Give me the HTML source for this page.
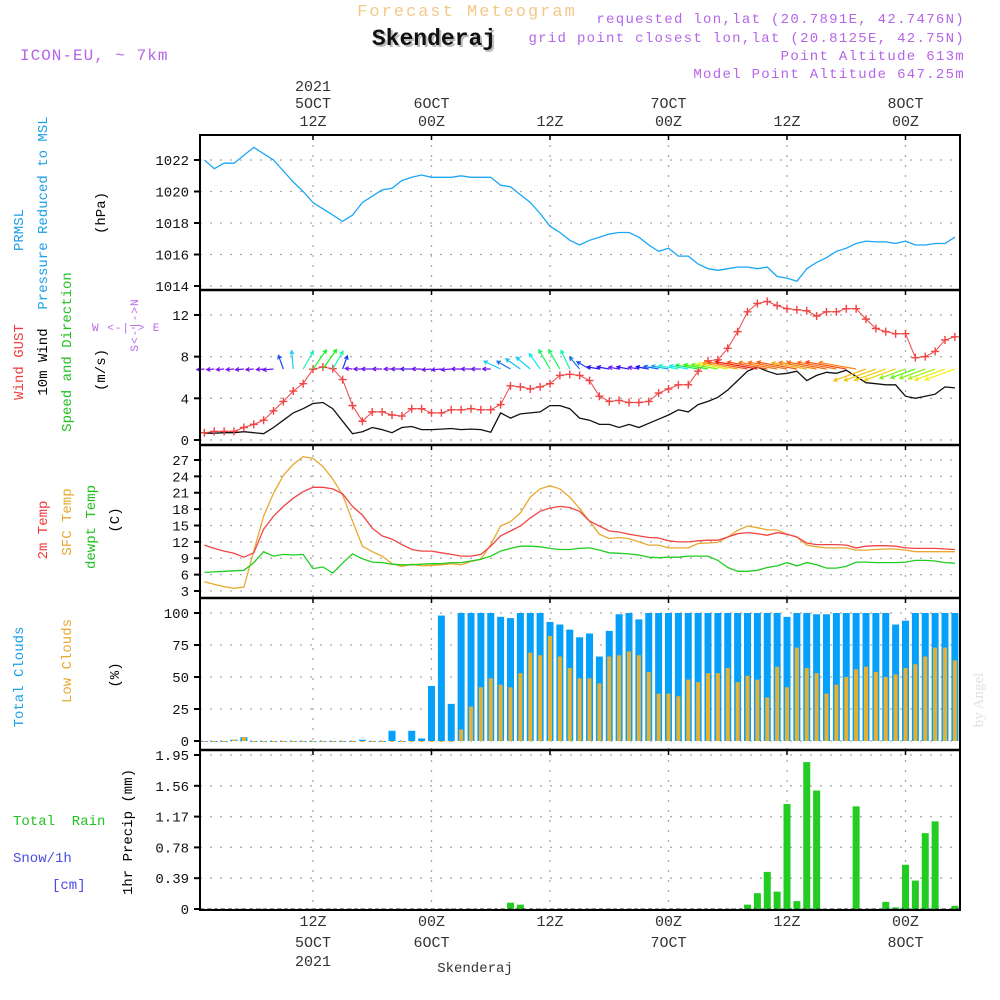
<!DOCTYPE html>
<html><head><meta charset="utf-8"><style>
body{margin:0;background:#fff;}
svg{display:block;font-family:"Liberation Mono",monospace;}
</style></head><body>
<svg id="chart" width="1000" height="1000" viewBox="0 0 1000 1000" xmlns="http://www.w3.org/2000/svg">
<rect x="0" y="0" width="1000" height="1000" fill="#fff"/>
<text x="467" y="16" text-anchor="middle" font-size="17" fill="#f3c98a" letter-spacing="2">Forecast Meteogram</text>
<text x="436" y="47" text-anchor="middle" font-size="23" font-weight="bold" fill="#bbb" font-family="Liberation Mono,monospace">Skenderaj</text>
<text x="434" y="45" text-anchor="middle" font-size="23" font-weight="bold" fill="#111" font-family="Liberation Mono,monospace">Skenderaj</text>
<text x="20" y="60" font-size="16" fill="#b565e8" letter-spacing="1">ICON-EU, ~ 7km</text>
<g fill="#b565e8" font-size="14" text-anchor="end" letter-spacing="1.3">
<text x="965" y="23">requested lon,lat (20.7891E, 42.7476N)</text>
<text x="965" y="42">grid point closest lon,lat (20.8125E, 42.75N)</text>
<text x="965" y="60">Point Altitude 613m</text>
<text x="965" y="78">Model Point Altitude 647.25m</text>
</g>
<g id="grid"></g>
<g id="marks"></g>
<g id="frame"></g>
<g id="labels" font-size="15" fill="#333" text-anchor="middle"></g>
<g font-size="14">
<text transform="translate(23,230) rotate(-90)" text-anchor="middle" fill="#1a9fe8">PRMSL</text>
<text transform="translate(47,213) rotate(-90)" text-anchor="middle" fill="#1a9fe8">Pressure Reduced to MSL</text>
<text transform="translate(105,213) rotate(-90)" text-anchor="middle" fill="#000">(hPa)</text>
<text transform="translate(23,362) rotate(-90)" text-anchor="middle" fill="#f03c3c">Wind GUST</text>
<text transform="translate(47,362) rotate(-90)" text-anchor="middle" fill="#000">10m Wind</text>
<text transform="translate(71,352) rotate(-90)" text-anchor="middle" fill="#22c022">Speed and Direction</text>
<text transform="translate(105,370) rotate(-90)" text-anchor="middle" fill="#000">(m/s)</text>
<text x="92" y="331" font-size="11" fill="#b565e8" letter-spacing="1">W &lt;-|-&gt; E</text>
<text transform="translate(138,325) rotate(-90)" text-anchor="middle" font-size="11" fill="#b565e8" letter-spacing="1">S&lt;-|-&gt;N</text>
<text transform="translate(47,530) rotate(-90)" text-anchor="middle" fill="#f03c3c">2m Temp</text>
<text transform="translate(71,522) rotate(-90)" text-anchor="middle" fill="#e8a830">SFC Temp</text>
<text transform="translate(95,527) rotate(-90)" text-anchor="middle" fill="#22c022">dewpt Temp</text>
<text transform="translate(119,520) rotate(-90)" text-anchor="middle" fill="#000">(C)</text>
<text transform="translate(23,677) rotate(-90)" text-anchor="middle" fill="#1a9fe8">Total Clouds</text>
<text transform="translate(71,661) rotate(-90)" text-anchor="middle" fill="#e8a830">Low Clouds</text>
<text transform="translate(119,675) rotate(-90)" text-anchor="middle" fill="#000">(%)</text>
<text x="13" y="825" fill="#22c022" xml:space="preserve">Total  Rain</text>
<text x="13" y="862" fill="#4a4ae8">Snow/1h</text>
<text x="52" y="889" fill="#4a4ae8">[cm]</text>
<text transform="translate(132,832) rotate(-90)" text-anchor="middle" fill="#000">1hr Precip (mm)</text>
<text transform="translate(983,700) rotate(-90)" text-anchor="middle" fill="#dde3dd" font-size="15" font-family="Liberation Serif,serif">by Angel</text>
<text x="475" y="972" text-anchor="middle" fill="#333" font-size="14">Skenderaj</text>
</g>
</svg>
<script>
const hours=[];for(let i=1;i<=77;i++)hours.push(i);
const pressure=[1022.0,1021.45,1021.8,1021.8,1022.3,1022.8,1022.4,1022.0,1021.3,1020.6,1020.0,1019.3,1018.9,1018.5,1018.1,1018.5,1019.3,1019.7,1020.1,1020.2,1020.7,1020.9,1021.05,1020.9,1020.9,1020.9,1021.0,1020.9,1020.9,1020.9,1020.4,1020.3,1019.8,1019.3,1018.6,1017.8,1017.4,1016.9,1016.6,1016.9,1017.1,1017.3,1017.4,1017.4,1017.1,1016.6,1016.2,1016.4,1015.9,1015.9,1015.4,1015.1,1015.0,1015.1,1015.2,1015.2,1015.1,1015.2,1014.6,1014.5,1014.3,1015.1,1015.5,1015.8,1016.2,1016.4,1016.7,1016.85,1016.8,1016.8,1016.7,1016.85,1016.6,1016.6,1016.7,1016.7,1017.1];
const gust=[0.7,0.83,0.83,0.83,1.2,1.5,1.9,2.8,3.7,4.7,5.4,6.8,7.0,6.85,5.8,3.3,1.8,2.7,2.7,2.4,2.3,3.0,3.0,2.6,2.6,2.9,2.9,3.0,2.9,2.9,3.4,5.2,5.1,4.9,5.1,5.4,6.2,6.3,6.2,5.7,4.2,3.7,3.8,3.6,3.6,3.7,4.5,4.9,5.3,5.3,6.6,7.6,7.7,8.8,10.4,12.3,13.1,13.3,12.9,12.6,12.5,12.4,11.9,12.3,12.3,12.6,12.6,11.6,10.7,10.4,10.2,10.2,7.9,8.0,8.5,9.6,9.9];
const wind=[0.65,0.65,0.7,0.7,0.8,0.7,0.6,1.2,1.9,2.6,3.0,3.5,3.6,3.0,1.8,0.6,0.8,1.2,1.0,0.7,1.2,1.3,1.0,1.0,1.05,1.1,1.0,1.05,1.0,0.75,2.6,2.1,2.5,2.6,2.7,3.3,3.3,3.0,2.1,1.9,1.5,1.5,1.2,1.5,1.2,1.6,2.0,2.4,2.9,2.7,3.4,3.7,4.1,4.8,5.7,6.6,7.0,6.6,6.3,6.4,6.6,5.7,6.2,6.5,6.4,6.7,6.1,5.5,5.4,5.3,5.3,4.2,4.0,4.2,4.4,5.1,5.0];
const windDir=[185,185,185,185,185,185,185,185,110,95,60,55,55,60,70,175,180,180,180,180,180,180,180,185,185,185,180,180,180,180,155,150,145,140,125,120,120,115,130,150,170,170,170,170,170,170,170,170,170,170,170,170,170,170,170,170,170,170,170,170,170,170,170,170,170,170,170,200,200,200,200,200,200,200,200,200,200];
const temp2m=[11.4,10.8,10.3,9.9,9.2,10.0,14.3,16.7,18.5,20.0,21.2,22.0,22.0,21.7,20.8,18.5,16.9,14.5,13.1,12.5,11.5,10.6,10.3,10.3,10.0,9.7,9.4,9.4,9.7,11.2,13.1,14.0,14.9,16.4,17.6,18.2,18.5,18.3,17.6,15.8,14.9,14.0,13.8,13.4,13.1,12.8,12.7,12.2,12.0,12.0,12.2,12.3,12.3,12.9,13.5,13.7,13.5,13.2,13.7,13.4,12.9,11.8,11.5,11.5,11.5,11.4,10.9,11.2,11.3,11.3,11.2,10.9,10.8,10.8,10.8,10.7,10.6];
const tempSfc=[4.7,4.2,3.8,3.5,3.7,10.3,16.7,20.9,24.2,26.2,27.6,27.3,25.8,23.5,20.6,15.8,11.2,10.2,9.4,8.0,7.5,7.9,7.6,7.7,7.8,8.0,7.8,8.4,8.8,11.5,14.9,15.7,17.3,20.2,21.7,22.3,21.7,20.2,18.1,15.8,13.4,12.6,12.8,12.6,12.0,11.4,11.4,10.9,10.9,10.9,11.7,11.8,11.9,12.9,14.1,14.9,14.6,14.2,14.2,13.4,12.9,11.4,11.1,10.9,10.9,10.9,10.5,10.5,10.6,10.7,10.7,10.5,10.2,10.2,10.2,10.2,10.2];
const dewpt=[6.4,6.5,6.6,6.7,6.8,8.2,10.2,9.4,9.7,9.6,9.7,7.1,7.4,6.3,8.1,9.8,8.9,8.3,8.2,7.9,7.8,7.8,7.9,8.0,8.0,8.2,8.2,8.5,8.8,9.4,10.3,10.8,11.2,11.2,11.1,10.8,10.6,10.6,10.8,10.9,10.5,10.0,9.9,9.8,9.6,9.2,9.1,9.2,9.2,9.4,9.4,9.4,8.6,7.3,6.6,6.6,6.8,7.3,7.6,8.2,7.6,8.2,7.8,7.2,7.2,7.5,8.3,8.3,8.2,8.2,8.2,8.3,8.6,8.6,8.5,8.2,8.1];
const totalClouds=[0,0,0,1,3,0,0,0,0,0,0,0,0,0,0,0,1,0,0,8,0,8,2,43,98,29,100,100,100,100,97,96,100,100,100,93,91,87,81,84,66,86,99,100,95,100,100,100,100,100,100,100,100,100,100,100,100,100,100,97,100,100,99,99,100,100,100,100,100,100,91,94,100,100,100,100,100];
const lowClouds=[0,0,0,1,3,0,0,0,0,0,0,0,0,0,0,0,0,0,0,0,0,0,0,0,0,0,9,27,42,49,44,42,53,69,67,82,66,57,49,49,45,66,67,70,67,54,37,37,35,48,46,53,53,57,46,51,48,34,58,42,73,57,53,37,44,50,56,58,54,50,52,57,60,66,73,73,63];
const precip=[0,0,0,0,0,0,0,0,0,0,0,0,0,0,0,0,0,0,0,0,0,0,0,0,0,0,0,0,0,0,0,0.08,0.055,0,0,0,0,0,0,0,0,0,0,0,0,0,0,0,0,0,0,0,0,0,0,0.055,0.2,0.47,0.22,1.33,0.1,1.86,1.5,0,0,0,1.3,0,0,0.09,0.02,0.56,0.36,0.96,1.11,0,0.04];
const pTicks=[1014,1016,1018,1020,1022];
const wTicks=[0,4,8,12];
const tTicks=[3,6,9,12,15,18,21,24,27];
const cTicks=[0,25,50,75,100];
const rTicks=[0,0.39,0.78,1.17,1.56,1.95];
const timeTicks=[12,24,36,48,60,72];
const topDay=["5OCT","6OCT","","7OCT","","8OCT"];
const topHour=["12Z","00Z","12Z","00Z","12Z","00Z"];

const NS="http://www.w3.org/2000/svg";
function mk(tag,attrs,parent){const e=document.createElementNS(NS,tag);for(const k in attrs)e.setAttribute(k,attrs[k]);parent.appendChild(e);return e;}
const X=h=>194.5+9.875*h;
const yP=v=>160+(1022-v)*15.75;
const yW=v=>440-v*10.42;
const yT=v=>460+(27-v)*5.458;
const yC=v=>741-v*1.28;
const yR=v=>909-v*(154/1.95);
const L=200,R=960;
const panels=[[135,290],[290,445],[445,598],[598,750],[750,910]];
const grid=document.getElementById('grid'),marks=document.getElementById('marks'),frame=document.getElementById('frame'),labels=document.getElementById('labels');

function yaxis(ticks,fn,fmt,name){ticks.forEach(t=>{const y=fn(t);
 const g=mk('line',{x1:L,x2:R,y1:y,y2:y,stroke:'#aaa','stroke-width':1.3,'stroke-dasharray':'2,8'},grid);
 
 
 const tk=mk('line',{x1:L-6,x2:L,y1:y,y2:y,stroke:'#000','stroke-width':2},frame);
 
 
 const tx=mk('text',{x:L-11,y:y+5,'text-anchor':'end','font-size':14,fill:'#111'},frame);
 
 
 tx.textContent=fmt(t);});}
yaxis(pTicks,yP,t=>t,'pressure');
yaxis(wTicks,yW,t=>t,'wind');
yaxis(tTicks,yT,t=>t,'temp');
yaxis(cTicks,yC,t=>t,'clouds');
yaxis(rTicks,yR,t=>t===0?'0':t.toFixed(2).replace(/0$/,''),'precip');
timeTicks.forEach((h,i)=>{const x=X(h);panels.forEach(p=>{
 const g=mk('line',{x1:x,x2:x,y1:p[0],y2:p[1],stroke:'#aaa','stroke-width':1.3,'stroke-dasharray':'2,8'},grid);
 
 
 const tk=mk('line',{x1:x,x2:x,y1:p[0],y2:p[0]+5,stroke:'#000','stroke-width':1.5},frame);
 
 });
 const a=mk('text',{x:x,y:126},labels);a.textContent=topHour[i];
 
 
 if(topDay[i]){const b=mk('text',{x:x,y:108},labels);b.textContent=topDay[i];
 
 }
 const c=mk('text',{x:x,y:926},labels);c.textContent=topHour[i];
 
 
 if(topDay[i]){const d=mk('text',{x:x,y:947},labels);d.textContent=topDay[i];
 
 }
});
const y1=mk('text',{x:X(12),y:91},labels);y1.textContent='2021';


const y2=mk('text',{x:X(12),y:966},labels);y2.textContent='2021';



hours.forEach((h,i)=>{const x=X(h);
 const b=mk('rect',{x:x-3.5,y:yC(totalClouds[i]),width:7,height:Math.max(741-yC(totalClouds[i]),1),fill:'#05a0fa'},marks);
 
 
 const o=mk('rect',{x:x-2,y:yC(lowClouds[i]),width:4,height:Math.max(741-yC(lowClouds[i]),1),fill:'#e8b030'},marks);
 
 
 if(precip[i]>0){const r=mk('rect',{x:x-3.5,y:yR(precip[i]),width:7,height:909-yR(precip[i]),fill:'#22cc22'},marks);
 
 }
});
const base=mk('line',{x1:L,x2:R,y1:909,y2:909,stroke:'#333','stroke-width':1,'stroke-dasharray':'4,3'},marks);



function line(arr,fn,color,name,w){const pts=hours.map((h,i)=>X(h).toFixed(1)+','+fn(arr[i]).toFixed(1)).join(' ');
 const p=mk('polyline',{points:pts,fill:'none',stroke:color,'stroke-width':w||1.3},marks);
 
 }
line(pressure,yP,'#1aa6f5','pressure-line');
line(wind,yW,'#111','wind-speed-line');
line(tempSfc,yT,'#e8a830','sfc-temp-line');
line(temp2m,yT,'#f04545','temp-2m-line');
line(dewpt,yT,'#22cc22','dewpt-line');
line(gust,yW,'#f04545','gust-line',1);
hours.forEach((h,i)=>{const x=X(h),y=yW(gust[i]);
 const c=mk('path',{d:`M${x-4},${y}h8M${x},${y-4}v8`,stroke:'#f04545','stroke-width':1.4},marks);
 
 });

const stops=[[0,272],[1.2,262],[1.9,225],[2.6,190],[3.5,125],[4.5,75],[5.5,45],[6.5,22],[7,2]];
function hue(s){if(s<=stops[0][0])return stops[0][1];for(let k=1;k<stops.length;k++){if(s<=stops[k][0]){const a=stops[k-1],b=stops[k];return a[1]+(b[1]-a[1])*(s-a[0])/(b[0]-a[0]);}}return 0;}
hours.forEach((h,i)=>{const x0=X(h),y0=369,s=wind[i],len=4+5.5*s,ang=windDir[i]*Math.PI/180;
 const x1=x0+len*Math.cos(ang),y1=y0-len*Math.sin(ang);
 const col=`hsl(${hue(s)},90%,52%)`;
 const a1=ang+Math.PI-0.5,a2=ang+Math.PI+0.5;
 const d=`M${x0},${y0}L${x1},${y1}M${x1+4*Math.cos(a1)},${y1-4*Math.sin(a1)}L${x1},${y1}L${x1+4*Math.cos(a2)},${y1-4*Math.sin(a2)}`;
 const p=mk('path',{d:d,stroke:col,'stroke-width':1.2,fill:'none'},marks);
 
 });

const fr=mk('rect',{x:L,y:135,width:R-L,height:775,fill:'none',stroke:'#000','stroke-width':2},frame);


[290,445,598,750].forEach(y=>{const s=mk('line',{x1:L,x2:R,y1:y,y2:y,stroke:'#000','stroke-width':2.5},frame);
 
 });
</script>
</body></html>
